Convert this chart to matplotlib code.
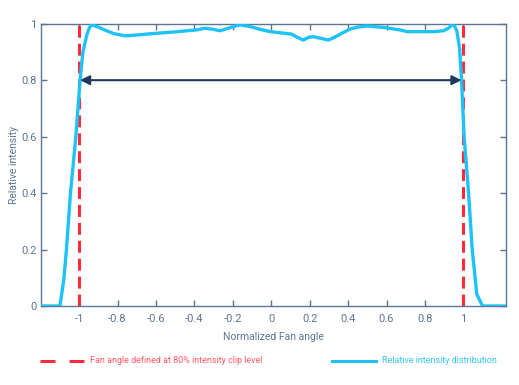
import matplotlib
matplotlib.use("Agg")
import matplotlib.pyplot as plt
from matplotlib.lines import Line2D

plt.rcParams['font.family'] = ['Roboto', 'DejaVu Sans']
plt.rcParams['lines.scale_dashes'] = False

# Data
angle = [-1.2, -1.1, -1.08, -1.066, -1.045, -1.017, -0.995, -0.98, -0.96, -0.947,
         -0.935, -0.92, -0.89, -0.857, -0.82, -0.76, -0.7, -0.6, -0.5, -0.44,
         -0.39, -0.345, -0.3, -0.267, -0.22, -0.163, -0.11, -0.058, -0.006, 0.046,
         0.107, 0.135, 0.167, 0.195, 0.219, 0.26, 0.297, 0.33, 0.367, 0.41,
         0.45, 0.497, 0.584, 0.67, 0.706, 0.775, 0.85, 0.896, 0.925, 0.94,
         0.955, 0.966, 0.98, 0.989, 1.004, 1.027, 1.046, 1.07, 1.1, 1.22]
intensity = [0.0, 0.0, 0.092, 0.2, 0.4, 0.6, 0.8, 0.9, 0.96, 0.985,
             0.996, 0.993, 0.985, 0.975, 0.965, 0.957, 0.96, 0.966, 0.971, 0.975,
             0.978, 0.984, 0.98, 0.975, 0.985, 0.996, 0.99, 0.98, 0.972, 0.968,
             0.963, 0.952, 0.942, 0.952, 0.954, 0.948, 0.942, 0.952, 0.966, 0.981,
             0.988, 0.992, 0.987, 0.978, 0.972, 0.972, 0.972, 0.975, 0.985, 0.998,
             0.99, 0.975, 0.913, 0.818, 0.6, 0.4, 0.2, 0.041, 0.0, 0.0]

clip_angles = [-1.0, 1.0]
clip_level = 0.8
xticks = [-1, -0.8, -0.6, -0.4, -0.2, 0, 0.2, 0.4, 0.6, 0.8, 1]
xticklabels = ['-1', '-0.8', '-0.6', '-0.4', '-0.2', '0', '0.2', '0.4', '0.6', '0.8', '1']
yticks = [0, 0.2, 0.4, 0.6, 0.8, 1]
yticklabels = ['0', '0.2', '0.4', '0.6', '0.8', '1']

AX = '#5d7594'
CYAN = '#1ec3f6'
RED = '#ff2b3b'
NAVY = '#1d3a5c'

fig = plt.figure(figsize=(5.19, 3.85), dpi=100)
ax = fig.add_axes([0.0784, 0.2052, 0.8966, 0.7332])

ax.plot(angle, intensity, color=CYAN, lw=2.4, solid_capstyle='round', zorder=3)
for xa in clip_angles:
    ax.plot([xa, xa], [0, 1], color=RED, lw=2.2, dashes=(8.6, 4.3), zorder=2)

ax.annotate('', xy=(clip_angles[0] + 0.005, clip_level), xytext=(clip_angles[1] - 0.01, clip_level),
            arrowprops=dict(arrowstyle='<|-|>', color=NAVY, lw=1.5,
                            mutation_scale=14, shrinkA=0, shrinkB=0), zorder=4)

ax.set_xlim(-1.2, 1.222)
ax.set_ylim(0, 1)
ax.set_xticks(xticks)
ax.set_xticklabels(xticklabels)
ax.set_yticks(yticks)
ax.set_yticklabels(yticklabels)
ax.tick_params(direction='in', length=4, width=1, color=AX, labelcolor=AX,
               labelsize=8, top=True, right=True)
ax.tick_params(axis='x', pad=6)
ax.tick_params(axis='y', pad=3)
for s in ax.spines.values():
    s.set_color(AX)
    s.set_linewidth(1)
ax.set_xlabel('Normalized Fan angle', color=AX, fontsize=7.5)
ax.set_ylabel('Relative intensity', color=AX, fontsize=7.5)
ax.xaxis.set_label_coords(0.5, -0.092)
ax.yaxis.set_label_coords(-0.047, 0.5)

# Legend below the axes
ly = 1 - 360.7 / 385
fig.add_artist(Line2D([40 / 519, 84 / 519], [ly, ly], transform=fig.transFigure,
                      color=RED, lw=2.2, dashes=(10.8, 10.1)))
fig.text(90 / 519, ly, 'Fan angle defined at 80% intensity clip level',
         color='#ff5b67', fontsize=6.5, va='center', ha='left')
fig.add_artist(Line2D([332 / 519, 376 / 519], [ly, ly], transform=fig.transFigure,
                      color=CYAN, lw=2.2))
fig.text(382 / 519, ly, 'Relative intensity distribution',
         color='#33c6f3', fontsize=6.5, va='center', ha='left')

fig.savefig('out.png', dpi=100)
